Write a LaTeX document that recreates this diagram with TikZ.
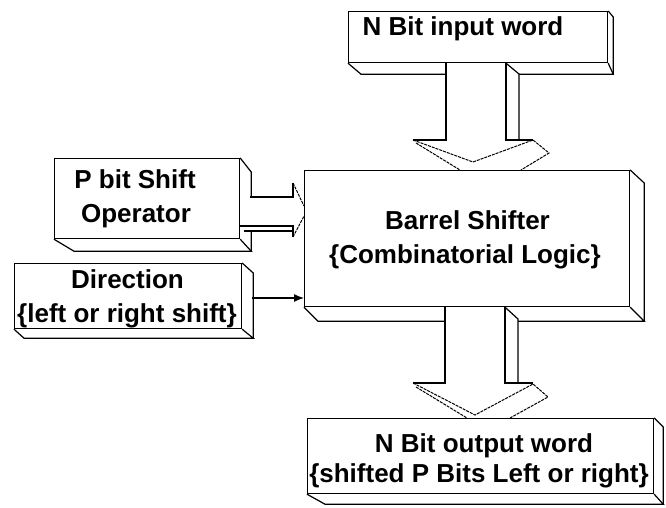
\documentclass[tikz,border=0pt]{standalone}
\usepackage{fontspec}
\setmainfont{Liberation Sans}
\usetikzlibrary{calc,arrows.meta}
\newcommand\depthbox[5]{%
  \draw (#1.south west) -- ++(#2,#3) -- ($(#1.south east)+(#4,#3)$) -- (#1.south east);
  \draw (#1.north east) -- ++(#4,#5) -- ($(#1.south east)+(#4,#3)$);
}
\begin{document}
\begin{tikzpicture}[x=1pt,y=-1pt,line width=1.2pt,
  box/.style={draw,fill=white,rectangle,inner sep=0pt,anchor=north west},
  lbl/.style={font=\fontsize{26}{30}\selectfont\bfseries,anchor=base,inner sep=0pt},
  head/.style={line width=1pt,dash pattern=on 3pt off 1pt},
]
\useasboundingbox (0,0) rectangle (666,508);

% boxes
\node[box,minimum width=259pt,minimum height=51pt] (in) at (348,11) {};
\node[box,minimum width=185pt,minimum height=80pt] (pb) at (54,158) {};
\node[box,minimum width=227pt,minimum height=65pt] (dir) at (14,263) {};
\node[box,minimum width=325pt,minimum height=136pt] (bs) at (304,170) {};
\node[box,minimum width=346pt,minimum height=75pt] (out) at (307,418) {};

\depthbox{in}{13}{11}{5}{6}
\depthbox{pb}{20}{12}{11}{14}
\depthbox{dir}{10}{9}{11}{10}
\depthbox{bs}{14}{14}{14}{13}
\depthbox{out}{18}{10}{9}{9}

% arrow: input word -> barrel shifter
\fill[white] (446,0 |- in.south) -- (506,0 |- in.south) -- (519,74) -- (519,140) -- (446,140) -- cycle;
\draw (446,0 |- in.south) -- (446,140) -- (413,140);
\draw (506,0 |- in.south) -- (506,140) -- (533,140);
\draw (506,0 |- in.south) -- (519,74) -- (519,140);
\draw[head] (413,140) -- (473,162) -- (533,140) -- (549,153) -- (521,0 |- bs.north);
\draw[head] (416,143) -- (460,0 |- bs.north);

% arrow: barrel shifter -> output word
\fill[white] (445,0 |- bs.south) -- (505,0 |- bs.south) -- (518,319) -- (518,383) -- (445,383) -- cycle;
\draw (445,0 |- bs.south) -- (445,383) -- (413,383);
\draw (505,0 |- bs.south) -- (505,383) -- (533,383);
\draw (505,0 |- bs.south) -- (518,319) -- (518,383);
\draw[head] (413,383) -- (475,415) -- (533,384) -- (548,397) -- (510,0 |- out.north);
\draw[head] (416,387) -- (467,0 |- out.north);

% arrow: P bit shift operator -> barrel shifter
\fill[white] (pb.east |- 0,197) -- (293,197) -- (293,231) -- (pb.east |- 0,231) -- cycle;
\draw (250,197) -- (293,197) -- (293,183);
\draw (pb.east |- 0,226) -- (293,226) -- (293,237);
\draw (244,231) -- (293,231);
\draw[head] (293,183) -- (bs.west |- 0,206);
\draw[head] (293,237) -- (bs.west |- 0,216);

% arrow: direction -> barrel shifter
\draw[line width=1.2pt,-{Latex[length=10pt,width=8pt]}] (252,298) -- (bs.west |- 0,298);

% labels
\node[lbl] (tin) at (463,36) {N Bit input word};
\node[lbl] (tpb1) at (135,188) {P bit Shift};
\node[lbl] (tpb2) at (136,222) {Operator};
\node[lbl] (tdir1) at (127.5,288) {Direction};
\node[lbl] (tdir2) at (127,322) {\{left or right shift\}};
\node[lbl] (tbs1) at (467.5,229) {Barrel Shifter};
\node[lbl] (tbs2) at (465,263) {\{Combinatorial Logic\}};
\node[lbl] (tout1) at (484,452) {N Bit output word};
\node[lbl] (tout2) at (479,482) {\{shifted P Bits Left or right\}};
\end{tikzpicture}
\end{document}
